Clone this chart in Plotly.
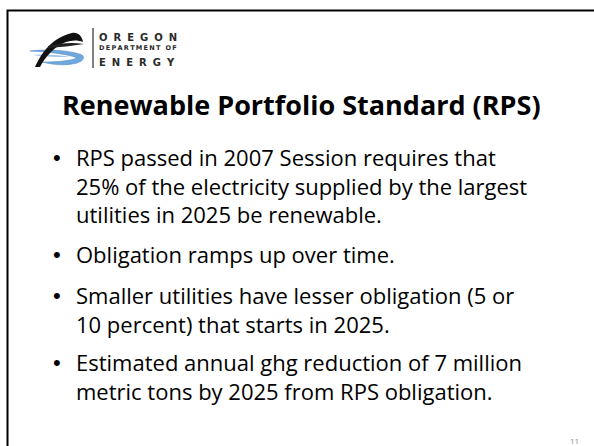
import plotly.graph_objects as go

# ---- content ----
title_text = "Renewable Portfolio Standard (RPS)"
bullet_lines = [
    ["RPS passed in 2007 Session requires that",
     "25% of the electricity supplied by the largest",
     "utilities in 2025 be renewable."],
    ["Obligation ramps up over time."],
    ["Smaller utilities have lesser obligation (5 or",
     "10 percent) that starts in 2025."],
    ["Estimated annual ghg reduction of 7 million",
     "metric tons by 2025 from RPS obligation."],
]
logo_words = ["OREGON", "DEPARTMENT OF", "ENERGY"]
page_number = "11"

# ---- layout constants ----
W, H = 594, 446
FONT = "Open Sans"
body_size = 22
title_size = 27
bullet_x, text_x = 57, 75
bullet_starts = [157, 254, 295, 362]
line_gap = 28.7

fig = go.Figure()
ann = []

ann.append(dict(x=301, y=104, text="<b>" + title_text + "</b>", showarrow=False,
                xanchor="center", yanchor="middle",
                font=dict(family=FONT, size=title_size, color="#000000")))

for start, lines in zip(bullet_starts, bullet_lines):
    ann.append(dict(x=bullet_x, y=start, text="•", showarrow=False,
                    xanchor="center", yanchor="middle", borderpad=0,
                    font=dict(family="Liberation Sans", size=body_size, color="#000000")))
    for i, line in enumerate(lines):
        ann.append(dict(x=text_x, y=start + i * line_gap, text=line, showarrow=False,
                        xanchor="left", yanchor="middle", borderpad=0,
                        font=dict(family=FONT, size=body_size, color="#000000")))

# logo text
logo_y = [37, 48, 62]
logo_sizes = [10, 6.5, 10]
logo_gaps = ["\u2002\u200a", "\u2009", "\u2002\u200a"]
for word, yy, sz, gap in zip(logo_words, logo_y, logo_sizes, logo_gaps):
    spaced = gap.join(word)
    ann.append(dict(x=97, y=yy, text="<b>" + spaced + "</b>", showarrow=False,
                    xanchor="left", yanchor="middle",
                    font=dict(family="DejaVu Sans", size=sz, color="#2a2a2a")))

ann.append(dict(x=574, y=440, text=page_number, showarrow=False,
                xanchor="center", yanchor="middle",
                font=dict(family=FONT, size=8, color="#8c8c8c")))

shapes = [
    # slide frame (extends beyond the visible area)
    dict(type="rect", x0=7.5, y0=10.5, x1=W + 20, y1=H + 20,
         line=dict(color="#000000", width=2), fillcolor="rgba(0,0,0,0)"),
    # logo bar
    dict(type="line", x0=93, y0=28, x1=93, y1=68, line=dict(color="#555555", width=1.5)),
    # blue swirl
    dict(type="path",
         path="M 30 51 C 45 49, 70 50, 82 55 C 86 58, 82 63, 72 64 C 62 66, 50 64, 42 62 "
              "C 55 62, 70 61, 77 58 C 72 55, 50 52, 30 51 Z",
         fillcolor="#6fa8dc", line=dict(color="#4a86c5", width=0.5)),
    dict(type="path",
         path="M 33 55 C 45 54, 60 55, 70 57 C 58 57, 45 57, 33 55 Z",
         fillcolor="#9fc5e8", line=dict(width=0)),
    # black swoosh
    dict(type="path",
         path="M 35 67 C 42 52, 52 38, 72 33 C 78 32, 82 36, 83 42 C 78 40, 72 40, 66 42 "
              "C 55 46, 45 57, 40 67 Z",
         fillcolor="#111111", line=dict(width=0)),
    dict(type="path",
         path="M 48 46 C 60 43, 72 42, 84 44 C 72 46, 60 47, 48 48 Z",
         fillcolor="#222222", line=dict(width=0)),
]

fig.update_layout(
    width=W, height=H,
    margin=dict(l=0, r=0, t=0, b=0),
    paper_bgcolor="white", plot_bgcolor="white",
    xaxis=dict(range=[0, W], visible=False, fixedrange=True),
    yaxis=dict(range=[H, 0], visible=False, fixedrange=True),
    annotations=ann, shapes=shapes, showlegend=False,
)
fig.write_html("out.html", config={"displayModeBar": False},
               post_script="document.body.style.margin='0';document.body.style.overflow='hidden';")
